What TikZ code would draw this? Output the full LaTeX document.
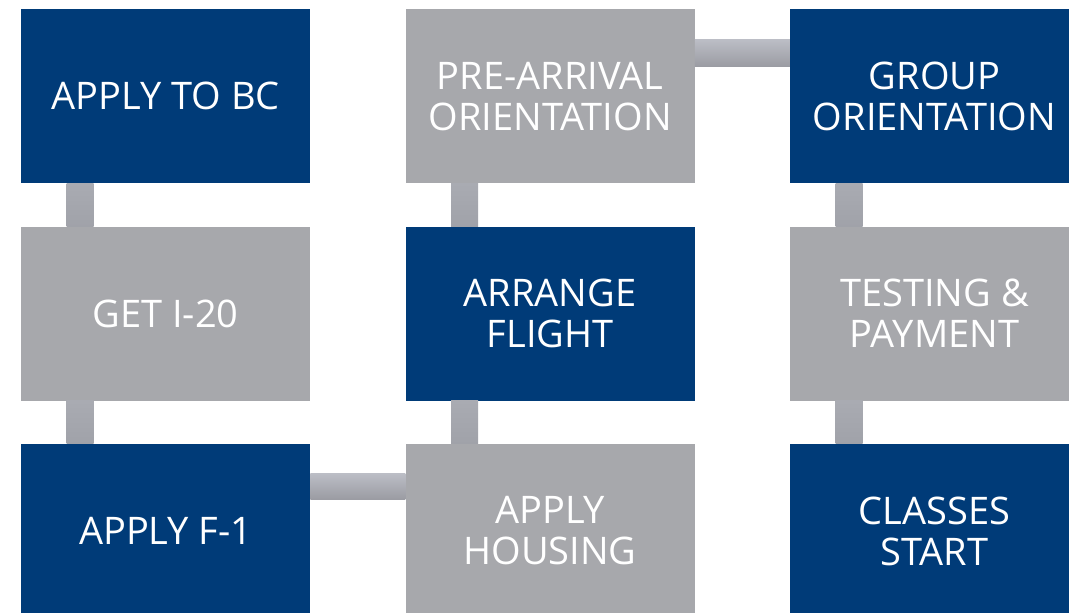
\documentclass[tikz,border=0pt]{standalone}
\usepackage{fontspec}
\setmainfont{Open Sans}
\usetikzlibrary{positioning}
\definecolor{bcblue}{HTML}{003B78}
\definecolor{bcgray}{HTML}{A7A8AC}
\definecolor{barlight}{HTML}{BCBEC6}
\definecolor{bardark}{HTML}{9B9CA3}
\definecolor{vbartop}{HTML}{A9ABB2}
\definecolor{vbarbot}{HTML}{A0A2A9}
\tikzset{
  stepbox/.style={minimum width=289pt, minimum height=174pt, inner sep=0pt,
    text=white, align=center, font=\fontsize{38}{41}\selectfont},
  bluebox/.style={stepbox, fill=bcblue},
  graybox/.style={stepbox, fill=bcgray},
  hbar/.style={top color=barlight, bottom color=bardark},
  vbar/.style={top color=vbartop, bottom color=vbarbot}
}
\begin{document}
\begin{tikzpicture}[x=1pt, y=1pt, node distance=43pt and 95pt]
\useasboundingbox (0,0) rectangle (1069,-613);
\clip (0,0) rectangle (1069,-613);
\fill[white] (0,0) rectangle (1069,-613);
% first column
\node[bluebox, anchor=north west] (apply) at (21,-9) {APPLY TO BC};
\node[graybox, below=of apply] (geti) {GET I-20};
\node[bluebox, below=of geti] (visa) {APPLY F-1};
% second column
\node[graybox, right=of apply] (prearr) {PRE-ARRIVAL\\ORIENTATION};
\node[bluebox, below=of prearr] (flight) {ARRANGE\\FLIGHT};
\node[graybox, below=of flight] (housing) {APPLY\\HOUSING};
% third column
\node[bluebox, right=of prearr] (group) {GROUP\\ORIENTATION};
\node[graybox, below=of group] (testing) {TESTING \&\\PAYMENT};
\node[bluebox, below=of testing] (classes) {CLASSES\\START};
% connectors
\foreach \a/\b in {apply/geti, geti/visa, prearr/flight, flight/housing, group/testing, testing/classes}
  \shade[vbar] ([xshift=-99pt]\a.south) rectangle ([xshift=-72pt]\b.north);
\shade[hbar] ([yshift=57pt]prearr.east) rectangle ([yshift=30pt]group.west);
\shade[hbar] ([yshift=58pt]visa.east) rectangle ([yshift=32pt]housing.west);
\end{tikzpicture}
\end{document}
